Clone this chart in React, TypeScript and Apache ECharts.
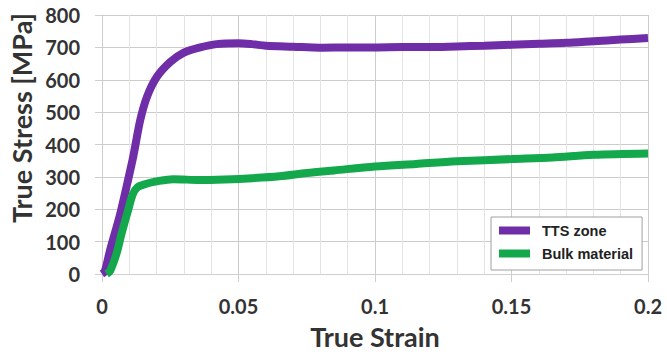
import React, { useEffect, useRef } from "react";
import * as echarts from "echarts";

const seriesNames = ["TTS zone", "Bulk material"];
const seriesColors = ["#6f2da8", "#12a84b"];

// [true strain, true stress MPa]
const ttsZone: [number, number][] = [
  [0, 0], [0.001, 8], [0.003, 75], [0.0065, 180], [0.009, 270], [0.0115, 365],
  [0.014, 475], [0.0165, 548], [0.02, 608], [0.025, 655], [0.03, 684],
  [0.036, 700], [0.042, 710], [0.05, 713], [0.055, 710], [0.06, 705],
  [0.07, 702], [0.08, 699], [0.09, 700], [0.1, 700], [0.11, 701], [0.12, 701],
  [0.13, 703], [0.14, 705], [0.15, 708], [0.16, 711], [0.17, 714],
  [0.18, 719], [0.19, 724], [0.2, 729],
];

const bulkMaterial: [number, number][] = [
  [0.0017, 0], [0.003, 10], [0.0054, 65], [0.0072, 126], [0.0096, 198],
  [0.0112, 245], [0.013, 268], [0.016, 278], [0.02, 286], [0.026, 293],
  [0.036, 290], [0.045, 292], [0.055, 296], [0.065, 302], [0.075, 312],
  [0.085, 320], [0.1, 332], [0.115, 340], [0.13, 348], [0.15, 355],
  [0.165, 360], [0.18, 368], [0.2, 372],
];

const xTitle = "True Strain";
const yTitle = "True Stress [MPa]";

export default function App() {
  const ref = useRef<HTMLDivElement>(null);
  useEffect(() => {
    document.body.style.margin = "0";
    const chart = echarts.init(ref.current!, null, { renderer: "svg" });
    const labelStyle = {
      fontFamily: "Lato",
      fontWeight: "bold" as const,
      fontSize: 20,
      color: "#333333",
    };
    chart.setOption({
      animation: false,
      backgroundColor: "#ffffff",
      grid: { left: 102, right: 19, top: 15, bottom: 84, containLabel: false },
      xAxis: {
        type: "value",
        min: 0,
        max: 0.2,
        interval: 0.05,
        axisLine: { show: true, lineStyle: { color: "#cfcfcf", width: 1 } },
        axisTick: { show: true, length: 8, lineStyle: { color: "#cfcfcf" } },
        axisLabel: { ...labelStyle, margin: 22, showMaxLabel: true },
        splitLine: { show: true, lineStyle: { color: "#cccccc", width: 1 } },
        minorTick: { show: false, splitNumber: 5 },
        minorSplitLine: { show: true, lineStyle: { color: "#e4e4e4", width: 1 } },
      },
      yAxis: {
        type: "value",
        min: 0,
        max: 800,
        interval: 100,
        axisLine: { show: true, lineStyle: { color: "#cfcfcf", width: 1 } },
        axisTick: { show: true, length: 7, lineStyle: { color: "#cfcfcf" } },
        axisLabel: { ...labelStyle, margin: 22 },
        splitLine: { show: true, lineStyle: { color: "#cccccc", width: 1 } },
      },
      legend: {
        orient: "vertical",
        left: 491,
        top: 217,
        padding: [6, 9, 9, 8],
        itemGap: 8,
        itemWidth: 31,
        itemHeight: 8,
        icon: "rect",
        backgroundColor: "#ffffff",
        borderColor: "#a0a0a0",
        borderWidth: 1,
        textStyle: {
          fontFamily: "Liberation Sans",
          fontWeight: "bold",
          fontSize: 14.5,
          color: "#222222",
          padding: [0, 0, 0, 7],
        },
        data: seriesNames,
      },
      graphic: [
        {
          type: "text",
          x: 375,
          y: 336,
          style: {
            text: xTitle,
            fontFamily: "Lato",
            fontWeight: "bold",
            fontSize: 27,
            fill: "#333333",
            align: "center",
            verticalAlign: "middle",
          },
        },
        {
          type: "text",
          x: 21,
          y: 118,
          rotation: Math.PI / 2,
          style: {
            text: yTitle,
            fontFamily: "Lato",
            fontWeight: "bold",
            fontSize: 27,
            fill: "#333333",
            align: "center",
            verticalAlign: "middle",
          },
        },
      ],
      series: [
        {
          name: seriesNames[0],
          type: "line",
          data: ttsZone,
          smooth: 0.3,
          showSymbol: false,
          lineStyle: { color: seriesColors[0], width: 8 },
          itemStyle: { color: seriesColors[0] },
        },
        {
          name: seriesNames[1],
          type: "line",
          data: bulkMaterial,
          smooth: 0.3,
          showSymbol: false,
          lineStyle: { color: seriesColors[1], width: 8 },
          itemStyle: { color: seriesColors[1] },
        },
      ],
    });
    return () => chart.dispose();
  }, []);
  return (
    <div
      ref={ref}
      style={{ position: "absolute", left: 0, top: 0, width: 667, height: 358 }}
    />
  );
}
